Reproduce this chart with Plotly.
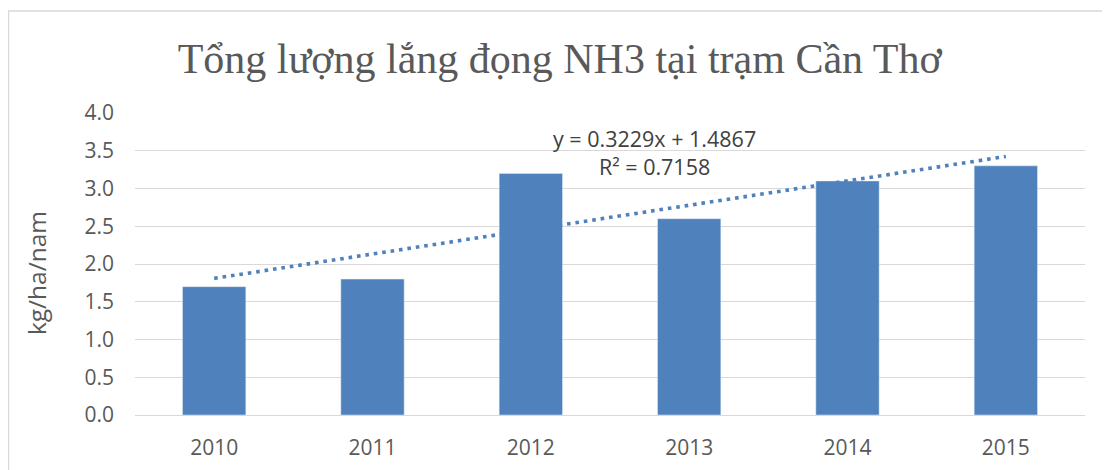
import numpy as np
import plotly.graph_objects as go

years = ["2010", "2011", "2012", "2013", "2014", "2015"]
nh3 = [1.7, 1.8, 3.2, 2.6, 3.1, 3.3]
y_ticks = [0.0, 0.5, 1.0, 1.5, 2.0, 2.5, 3.0, 3.5, 4.0]

# linear trend, x = 1..6 as in Excel
xs = np.arange(1, len(nh3) + 1)
slope, intercept = np.polyfit(xs, nh3, 1)
trend = slope * xs + intercept
r2 = 1 - np.sum((np.array(nh3) - trend) ** 2) / np.sum((np.array(nh3) - np.mean(nh3)) ** 2)

font_sans = "Open Sans, Liberation Sans"

fig = go.Figure()
fig.add_trace(go.Bar(x=years, y=nh3, marker_color="#4F81BD", width=0.4, name="NH3"))
fig.add_trace(go.Scatter(x=years, y=trend, mode="lines",
                         line=dict(color="#4F81BD", width=3.6, dash="3.6px,4.9px"), name="trend"))

fig.add_annotation(x=0.547, y=3.48, xref="paper", yref="y",
                   text="y = %.4fx + %.4f<br>R² = %.4f" % (slope, intercept, r2),
                   showarrow=False, yanchor="middle",
                   font=dict(family=font_sans, size=21.5, color="#404040"))

# y axis title as annotation (Excel puts it a bit below centre)
fig.add_annotation(x=-0.1042, y=1.88, xref="paper", yref="y", text="kg/ha/nam",
                   textangle=-90, showarrow=False, xanchor="center", yanchor="middle",
                   font=dict(family=font_sans, size=24.5, color="#595959"))

# chart border
fig.add_shape(type="rect", xref="paper", yref="paper",
              x0=-0.1332, x1=1.1, y0=-0.4, y1=1.3377,
              line=dict(color="#D9D9D9", width=1.5), fillcolor="rgba(0,0,0,0)")

fig.update_layout(
    width=1110, height=470,
    margin=dict(l=127, r=33, t=105, b=63),
    paper_bgcolor="white", plot_bgcolor="white",
    showlegend=False,
    title=dict(text="Tổng lượng lắng đọng NH3 tại trạm Cần Thơ", x=0.497, xanchor="center",
               y=0.893, yanchor="middle",
               font=dict(family="Liberation Serif", size=42, color="#595959")),
    xaxis=dict(showgrid=False, showline=False, ticks="", ticklabelstandoff=18,
               tickfont=dict(family=font_sans, size=21, color="#595959")),
    yaxis=dict(range=[0, 4.0], tickvals=y_ticks, ticktext=["%.1f" % v for v in y_ticks],
               showgrid=True, gridcolor="#D9D9D9", gridwidth=1.3,
               zeroline=True, zerolinecolor="#D9D9D9", zerolinewidth=1.3,
               ticks="", ticklabelstandoff=20,
               tickfont=dict(family=font_sans, size=21, color="#595959")),
    bargap=0.6,
)

fig.write_html("out.html")
